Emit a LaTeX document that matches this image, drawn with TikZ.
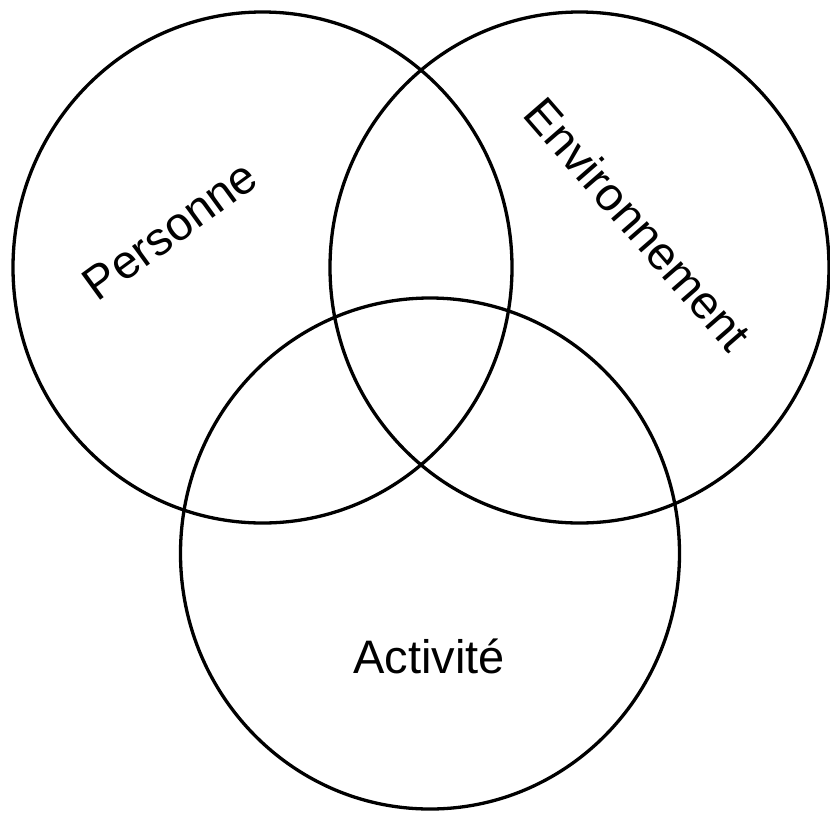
\documentclass[tikz,border=0pt]{standalone}
\usepackage{fontspec}
\setmainfont{Liberation Sans}
\usetikzlibrary{shapes.geometric}
\begin{document}
\begin{tikzpicture}[x=1pt,y=-1pt,
  venn/.style={ellipse,draw=black,line width=3.3pt,minimum width=499pt,minimum height=511pt,inner sep=0pt},
  lbl/.style={font=\fontsize{47}{56}\selectfont,inner sep=0pt}]
\useasboundingbox (0,0) rectangle (830,812);
\node[venn] (P) at (262.5,267.5) {};
\node[venn] (E) at (579.5,267.5) {};
\node[venn] (A) at (430,553.5) {};
\node[lbl,rotate=36] (tP) at (170,230) {Personne};
\node[lbl,rotate=-49] (tE) at (638,224) {Environnement};
\node[lbl,anchor=base] (tA) at (429,673) {Activité};
\end{tikzpicture}
\end{document}
